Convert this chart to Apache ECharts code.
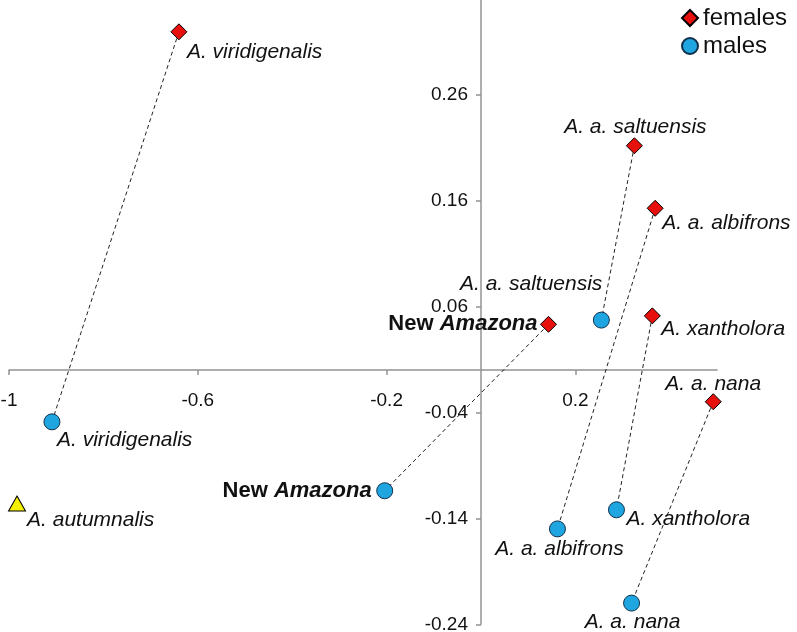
<!DOCTYPE html>
<html><head><meta charset="utf-8">
<script src="https://cdn.jsdelivr.net/npm/echarts@6/dist/echarts.min.js"></script>
<style>html,body{margin:0;padding:0;background:#fff}#c{width:797px;height:632px}</style>
</head><body><div id="c"></div>
<script>
// ---- data ----
const species = ['A. viridigenalis', 'A. a. saltuensis', 'A. a. albifrons', 'New Amazona', 'A. xantholora', 'A. a. nana'];
const femaleX = [-0.640, 0.325, 0.369, 0.143, 0.363, 0.492];
const femaleY = [0.319, 0.2115, 0.1525, 0.043, 0.051, -0.030];
const maleX = [-0.909, 0.255, 0.162, -0.204, 0.287, 0.319];
const maleY = [-0.049, 0.047, -0.150, -0.114, -0.132, -0.220];
const outgroupName = ['A. autumnalis'];
const outgroupX = [-0.983];
const outgroupY = [-0.126];
const xTicks = [-1, -0.6, -0.2, 0.2];
const yTicks = [-0.24, -0.14, -0.04, 0.06, 0.16, 0.26];

// ---- layout ----
const X_MIN = -1, X_MAX = 0.5, Y_MIN = -0.24, Y_MAX = 0.349;
const G_LEFT = 9, G_RIGHT = 80, G_TOP = 0, G_BOTTOM = 7.7;
const W = 797, H = 632;
const gW = W - G_LEFT - G_RIGHT, gH = H - G_TOP - G_BOTTOM;
// offsets that put each axis on the other's zero
const xAxisOffset = -(gH * (0 - Y_MIN) / (Y_MAX - Y_MIN));
const yAxisOffset = -(gW * (0 - X_MIN) / (X_MAX - X_MIN));

// ---- label placement (align, dx, dy) ----
const femaleLabelPos = {
  'A. viridigenalis': ['left', 8, 20],
  'A. a. saltuensis': ['center', 1, -19],
  'A. a. albifrons': ['left', 7, 15],
  'New Amazona': ['right', -11, 0],
  'A. xantholora': ['left', 9, 13],
  'A. a. nana': ['center', 0, -18]
};
const maleLabelPos = {
  'A. viridigenalis': ['left', 5, 18],
  'A. a. saltuensis': ['right', 1, -36],
  'A. a. albifrons': ['center', 2, 20],
  'New Amazona': ['right', -13, 0],
  'A. xantholora': ['left', 10, 9],
  'A. a. nana': ['center', 1, 19]
};
const outgroupLabelPos = {'A. autumnalis': ['left', 10, 17]};

const FONT = 'Liberation Sans, Arial, sans-serif';
const LS = 21;
const rich = {
  i: {fontStyle: 'italic', fontSize: LS, color: '#111', fontFamily: FONT},
  b: {fontWeight: 'bold', fontSize: LS + 1, color: '#111', fontFamily: FONT},
  bi: {fontWeight: 'bold', fontStyle: 'italic', fontSize: LS + 1, color: '#111', fontFamily: FONT}
};
function fmt(name) {
  if (name === 'New Amazona') return '{b|New }{bi|Amazona}';
  return '{i|' + name + '}';
}
function items(names, xs, ys, pos) {
  return names.map((n, i) => {
    const p = pos[n];
    return {
      name: n, value: [xs[i], ys[i]],
      label: {show: true, position: 'inside', align: p[0], verticalAlign: 'middle', offset: [p[1], p[2]],
        formatter: fmt(n), rich: rich}
    };
  });
}
const pairSeries = species.map((n, i) => ({
  type: 'line', name: 'pair-' + i, silent: true, symbol: 'none', z: 1,
  lineStyle: {color: '#222', width: 1, type: [4, 3]},
  data: [[femaleX[i], femaleY[i]], [maleX[i], maleY[i]]]
}));

const chart = echarts.init(document.getElementById('c'), null, {renderer: 'canvas'});
chart.setOption({
  animation: false,
  textStyle: {fontFamily: FONT},
  grid: {left: G_LEFT, right: G_RIGHT, top: G_TOP, bottom: G_BOTTOM, containLabel: false, outerBoundsMode: 'none'},
  legend: {
    data: ['females', 'males'], orient: 'vertical', left: 676, top: 1, itemGap: 4,
    itemWidth: 16, itemHeight: 16, textStyle: {fontSize: 24, color: '#111', fontFamily: FONT}
  },
  xAxis: {
    type: 'value', min: X_MIN, max: X_MAX, interval: 0.4, position: 'bottom', offset: xAxisOffset,
    splitLine: {show: false},
    axisLine: {onZero: false, lineStyle: {color: '#939393', width: 1.5}},
    axisTick: {show: true, length: 5, customValues: xTicks, lineStyle: {color: '#939393', width: 1.5}},
    axisLabel: {customValues: xTicks, margin: 21, fontSize: 19, color: '#111', fontFamily: FONT,
      formatter: v => String(+v.toFixed(2))}
  },
  yAxis: {
    type: 'value', min: Y_MIN, max: Y_MAX, interval: 0.1, position: 'left', offset: yAxisOffset,
    splitLine: {show: false},
    axisLine: {onZero: false, lineStyle: {color: '#939393', width: 1.5}},
    axisTick: {show: true, length: 5, customValues: yTicks, lineStyle: {color: '#939393', width: 1.5}},
    axisLabel: {customValues: yTicks, margin: 13, fontSize: 19, color: '#111', fontFamily: FONT,
      formatter: v => (+v.toFixed(2)).toFixed(2)}
  },
  series: pairSeries.concat([
    {type: 'scatter', name: 'females', symbol: 'diamond', symbolSize: 16, z: 3,
      itemStyle: {color: '#e8100c', borderColor: '#000', borderWidth: 1, opacity: 1},
      data: items(species, femaleX, femaleY, femaleLabelPos)},
    {type: 'scatter', name: 'males', symbol: 'circle', symbolSize: 16, z: 3,
      itemStyle: {color: '#1fa6e0', borderColor: '#10304a', borderWidth: 1, opacity: 1},
      data: items(species, maleX, maleY, maleLabelPos)},
    {type: 'scatter', name: 'outgroup', symbol: 'triangle', symbolSize: [17, 15], z: 3,
      itemStyle: {color: '#f4f000', borderColor: '#000', borderWidth: 1, opacity: 1},
      data: items(outgroupName, outgroupX, outgroupY, outgroupLabelPos)}
  ])
});
</script></body></html>
